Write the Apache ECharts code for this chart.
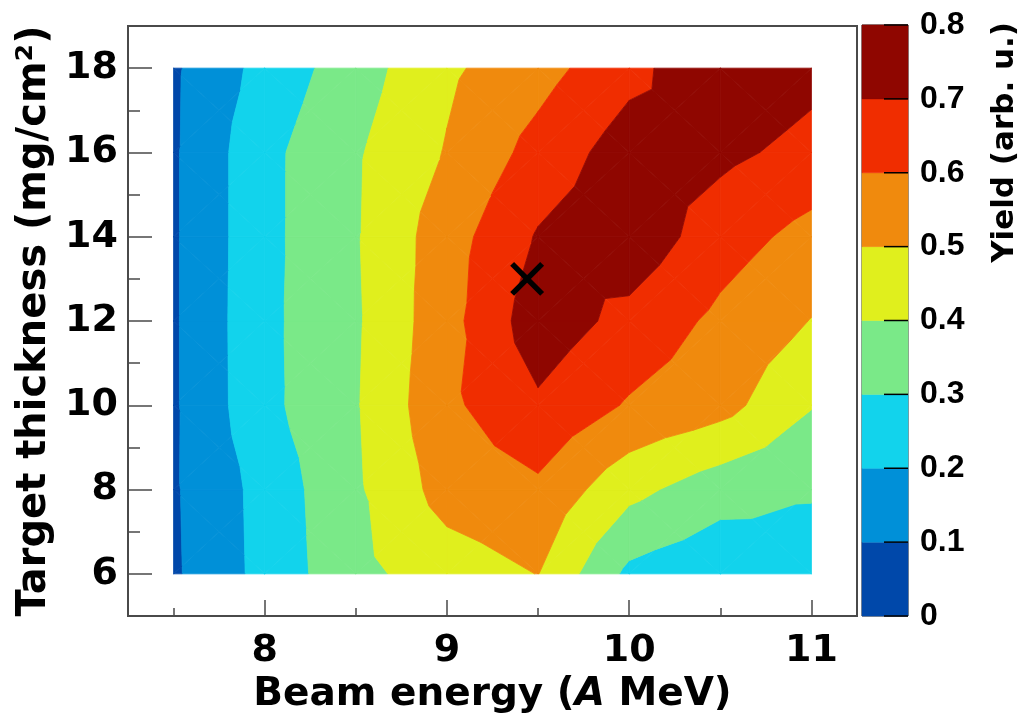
<!DOCTYPE html>
<html>
<head>
<meta charset="utf-8">
<script src="https://cdn.jsdelivr.net/npm/echarts@6/dist/echarts.min.js"></script>
<style>
  html, body { margin: 0; padding: 0; background: #ffffff; }
  #chart { width: 1026px; height: 720px; }
</style>
</head>
<body>
<div id="chart"></div>
<script>
// Bin centres of the scan
const beamEnergy = [7.5, 8.0, 8.5, 9.0, 9.5, 10.0, 10.5, 11.0];
const targetThickness = [6, 8, 10, 12, 14, 16, 18];

// Yield (arb. u.) versus beam energy, one row per target thickness
const yieldT6  = [0.086, 0.231, 0.374, 0.448, 0.502, 0.276, 0.224, 0.248];
const yieldT8  = [0.089, 0.234, 0.385, 0.541, 0.580, 0.429, 0.342, 0.310];
const yieldT10 = [0.088, 0.274, 0.392, 0.579, 0.685, 0.590, 0.537, 0.405];
const yieldT12 = [0.088, 0.276, 0.387, 0.564, 0.757, 0.670, 0.577, 0.497];
const yieldT14 = [0.088, 0.273, 0.392, 0.555, 0.709, 0.770, 0.645, 0.567];
const yieldT16 = [0.088, 0.273, 0.389, 0.507, 0.635, 0.750, 0.723, 0.670];
const yieldT18 = [0.086, 0.234, 0.354, 0.483, 0.563, 0.669, 0.783, 0.729];

// Contour levels and fill colours of the bands between them
const contourLevels = [0, 0.1, 0.2, 0.3, 0.4, 0.5, 0.6, 0.7, 0.8];
const bandColors = ['#0048aa', '#0090d8', '#12d3ec', '#7ae988', '#e0ef1d', '#f08a0d', '#f02d00', '#8f0600'];

// Tick positions
const energyTicks = [8, 9, 10, 11];
const energyMinorTicks = [7.5, 8.5, 9.5, 10.5];
const thicknessTicks = [6, 8, 10, 12, 14, 16, 18];
const thicknessMinorTicks = [7, 9, 11, 13, 15, 17];
const yieldTicks = [0, 0.1, 0.2, 0.3, 0.4, 0.5, 0.6, 0.7, 0.8];

// Selected working point
const chosenEnergy = [9.44];
const chosenThickness = [13];

const yieldRows = [yieldT6, yieldT8, yieldT10, yieldT12, yieldT14, yieldT16, yieldT18];

// ---- Filled contours: each cell is split into four triangles around its
// centre value and the linear surface of each triangle is cut into bands.
function clipByLevel(poly, level, keepAbove) {
  const out = [];
  for (let k = 0; k < poly.length; k++) {
    const p = poly[k], q = poly[(k + 1) % poly.length];
    const pin = keepAbove ? p[2] >= level : p[2] <= level;
    const qin = keepAbove ? q[2] >= level : q[2] <= level;
    if (pin) out.push(p);
    if (pin !== qin) {
      const t = (level - p[2]) / (q[2] - p[2]);
      out.push([p[0] + t * (q[0] - p[0]), p[1] + t * (q[1] - p[1]), level]);
    }
  }
  return out;
}

const bandPolygons = [];
for (let j = 0; j < targetThickness.length - 1; j++) {
  for (let i = 0; i < beamEnergy.length - 1; i++) {
    const p00 = [beamEnergy[i], targetThickness[j], yieldRows[j][i]];
    const p10 = [beamEnergy[i + 1], targetThickness[j], yieldRows[j][i + 1]];
    const p11 = [beamEnergy[i + 1], targetThickness[j + 1], yieldRows[j + 1][i + 1]];
    const p01 = [beamEnergy[i], targetThickness[j + 1], yieldRows[j + 1][i]];
    const c = [(p00[0] + p10[0]) / 2, (p00[1] + p01[1]) / 2,
               (p00[2] + p10[2] + p11[2] + p01[2]) / 4];
    const tris = [[p00, p10, c], [p10, p11, c], [p11, p01, c], [p01, p00, c]];
    tris.forEach(function (tri) {
      for (let b = 0; b < contourLevels.length - 1; b++) {
        let poly = clipByLevel(tri, contourLevels[b], true);
        if (poly.length < 3) continue;
        poly = clipByLevel(poly, contourLevels[b + 1], false);
        if (poly.length < 3) continue;
        bandPolygons.push({ band: b, pts: poly });
      }
    });
  }
}

const FONT = 'DejaVu Sans';
const NUMFONT = 'Liberation Sans';
const FRAME = '#4a4a4a';

const chart = echarts.init(document.getElementById('chart'), null, { renderer: 'canvas' });

chart.setOption({
  animation: false,
  backgroundColor: '#ffffff',
  grid: [
    { left: 128, right: 169, top: 26, bottom: 104, show: true,
      borderColor: FRAME, borderWidth: 2, backgroundColor: 'transparent' },
    { left: 862, width: 46, top: 25, bottom: 104, show: true,
      borderColor: '#222222', borderWidth: 1, backgroundColor: 'transparent' }
  ],
  xAxis: [
    { type: 'value', gridIndex: 0, min: 7.25, max: 11.25, position: 'bottom',
      axisLine: { show: false },
      splitLine: { show: false },
      axisTick: { show: true, inside: true, length: 16, customValues: energyTicks,
                  lineStyle: { color: FRAME, width: 1.5 } },
      axisLabel: { show: true, customValues: energyTicks, margin: 16,
                   fontFamily: FONT, fontWeight: 'bold', fontSize: 38, color: '#000' },
      name: 'Beam energy ({it|A} MeV)', nameLocation: 'middle', nameGap: 52,
      nameTextStyle: { fontFamily: FONT, fontWeight: 'bold', fontSize: 39, color: '#000',
                       rich: { it: { fontFamily: FONT, fontWeight: 'bold', fontStyle: 'italic',
                                     fontSize: 39, color: '#000' } } } },
    { type: 'value', gridIndex: 0, min: 7.25, max: 11.25, position: 'bottom',
      axisLine: { show: false }, splitLine: { show: false },
      axisTick: { show: true, inside: true, length: 8, customValues: energyMinorTicks,
                  lineStyle: { color: FRAME, width: 1.5 } },
      axisLabel: { show: false } },
    { type: 'value', gridIndex: 1, min: 0, max: 1, show: false }
  ],
  yAxis: [
    { type: 'value', gridIndex: 0, min: 5, max: 19, position: 'left',
      axisLine: { show: false }, splitLine: { show: false },
      axisTick: { show: true, inside: true, length: 24, customValues: thicknessTicks,
                  lineStyle: { color: FRAME, width: 1.5 } },
      axisLabel: { show: true, customValues: thicknessTicks, margin: 10,
                   fontFamily: FONT, fontWeight: 'bold', fontSize: 38, color: '#000' },
      name: 'Target thickness (mg/cm²)', nameLocation: 'middle', nameGap: 68,
      nameTextStyle: { fontFamily: FONT, fontWeight: 'bold', fontSize: 40, color: '#000' } },
    { type: 'value', gridIndex: 0, min: 5, max: 19, position: 'left',
      axisLine: { show: false }, splitLine: { show: false },
      axisTick: { show: true, inside: true, length: 12, customValues: thicknessMinorTicks,
                  lineStyle: { color: FRAME, width: 1.5 } },
      axisLabel: { show: false } },
    { type: 'value', gridIndex: 1, min: 0, max: 0.8, position: 'right',
      axisLine: { show: false }, splitLine: { show: false },
      axisTick: { show: false },
      axisLabel: { show: true, customValues: yieldTicks, margin: 12,
                   fontFamily: NUMFONT, fontWeight: 'bold', fontSize: 32, color: '#000',
                   formatter: function (v) { return v === 0 ? '0' : v.toFixed(1); } } }
  ],
  graphic: [
    { type: 'text', x: 1005, y: 22, rotation: Math.PI / 2, z: 10,
      style: { text: 'Yield (arb. u.)', fontFamily: FONT, fontWeight: 'bold', fontSize: 31,
               fill: '#000', align: 'right', verticalAlign: 'middle' } }
  ],
  series: [
    {
      type: 'custom', name: 'yield contours',
      xAxisIndex: 0, yAxisIndex: 0,
      data: bandPolygons.map(function (p) { return [p.pts[0][0], p.pts[0][1], p.band]; }),
      renderItem: function (params, api) {
        const poly = bandPolygons[params.dataIndex];
        const pts = poly.pts.map(function (v) { return api.coord([v[0], v[1]]); });
        const col = bandColors[poly.band];
        return { type: 'polygon', shape: { points: pts },
                 style: { fill: col, stroke: col, lineWidth: 0.8 } };
      },
      z: 2, silent: true
    },
    {
      // colour scale: one box per band with a tick on the right edge at each level
      type: 'custom', name: 'colour scale',
      xAxisIndex: 2, yAxisIndex: 2,
      data: bandColors.map(function (c, b) { return [contourLevels[b], contourLevels[b + 1], b]; }),
      renderItem: function (params, api) {
        const lo = api.value(0), hi = api.value(1);
        const p0 = api.coord([0, lo]), p1 = api.coord([1, hi]);
        const col = bandColors[api.value(2)];
        const tick = { stroke: '#000', lineWidth: 1.5 };
        const children = [
          { type: 'rect',
            shape: { x: p0[0], y: p1[1], width: p1[0] - p0[0], height: p0[1] - p1[1] },
            style: { fill: col, stroke: col, lineWidth: 0.5 } },
          { type: 'line', z2: 5,
            shape: { x1: p1[0] - 24, y1: p0[1], x2: p1[0], y2: p0[1] }, style: tick }
        ];
        if (params.dataIndex === bandColors.length - 1) {
          children.push({ type: 'line', z2: 5,
            shape: { x1: p1[0] - 24, y1: p1[1], x2: p1[0], y2: p1[1] }, style: tick });
        }
        return { type: 'group', children: children };
      },
      z: 2, silent: true
    },
    {
      type: 'custom', name: 'working point',
      xAxisIndex: 0, yAxisIndex: 0,
      data: chosenEnergy.map(function (e, k) { return [e, chosenThickness[k]]; }),
      renderItem: function (params, api) {
        const c = api.coord([api.value(0), api.value(1)]);
        const h = 15;
        const ls = { stroke: '#000', lineWidth: 5.5 };
        return { type: 'group', children: [
          { type: 'line', shape: { x1: c[0] - h, y1: c[1] - h, x2: c[0] + h, y2: c[1] + h }, style: ls },
          { type: 'line', shape: { x1: c[0] - h, y1: c[1] + h, x2: c[0] + h, y2: c[1] - h }, style: ls }
        ] };
      },
      z: 5, silent: true
    }
  ]
});
</script>
</body>
</html>
